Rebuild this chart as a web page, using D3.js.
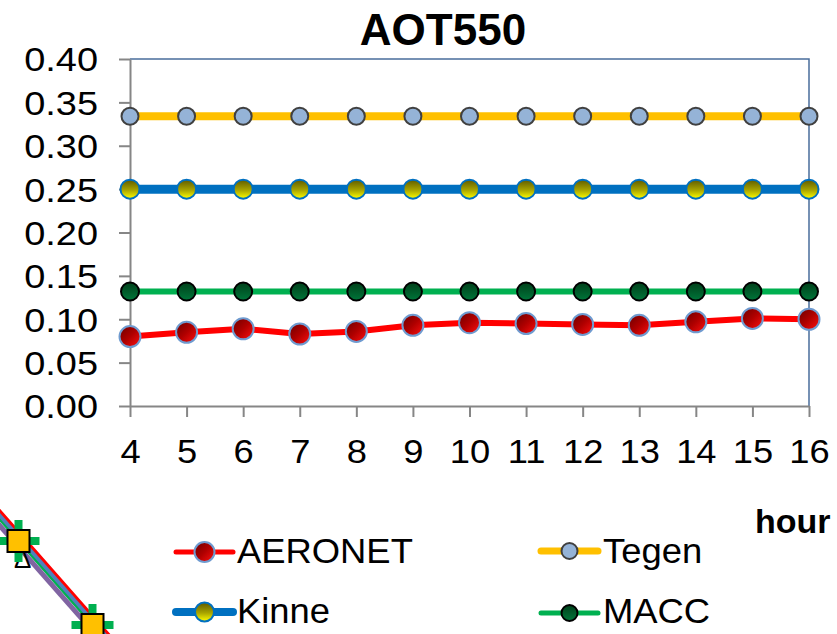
<!DOCTYPE html>
<html>
<head>
<meta charset="utf-8">
<script src="https://cdn.jsdelivr.net/npm/d3@7"></script>
<style>
    body { margin: 0; background: #fff; }
    svg { display: block; font-family: "Liberation Sans", Arial, sans-serif; }
</style>
</head>
<body>
<div id="container"></div>
<script>
const width = 837;
const height = 634;

// hours on the x axis
const hours = [4, 5, 6, 7, 8, 9, 10, 11, 12, 13, 14, 15, 16];
const yTicks = [0, 0.05, 0.10, 0.15, 0.20, 0.25, 0.30, 0.35, 0.40];

// AOT550 per hour
const aeronet = [0.080, 0.085, 0.089, 0.083, 0.086, 0.093, 0.096, 0.095, 0.094, 0.093, 0.097, 0.101, 0.100];
const tegen = [0.334, 0.334, 0.334, 0.334, 0.334, 0.334, 0.334, 0.334, 0.334, 0.334, 0.334, 0.334, 0.334];
const kinne = [0.250, 0.250, 0.250, 0.250, 0.250, 0.250, 0.250, 0.250, 0.250, 0.250, 0.250, 0.250, 0.250];
const macc = [0.132, 0.132, 0.132, 0.132, 0.132, 0.132, 0.132, 0.132, 0.132, 0.132, 0.132, 0.132, 0.132];

// cut-off piece of the neighbouring chart (bottom left)
const nbX = [-1, 0, 1, 2];
const nbRed = [-1.08, -0.08, 0.92, 1.92];
const nbBlue = [-1.03, -0.03, 0.97, 1.97];
const nbGreen = [-0.99, 0.01, 1.01, 2.01];
const nbWhite = [-0.96, 0.04, 1.04, 2.04];
const nbPurple = [-0.93, 0.07, 1.07, 2.07];
const nbMarkers = [0, 1];

const margin = {left: 130, right: 28, top: 59, bottom: 228};
const plotW = width - margin.left - margin.right;
const plotH = height - margin.top - margin.bottom;

const svg = d3.select("div#container").append("svg")
    .attr("width", width)
    .attr("height", height);

const defs = svg.append("defs");

const aeroGrad = defs.append("linearGradient").attr("id", "gAero")
    .attr("x1", 0).attr("y1", 0).attr("x2", 1).attr("y2", 1);
aeroGrad.append("stop").attr("offset", 0).attr("stop-color", "#6a0000");
aeroGrad.append("stop").attr("offset", 0.5).attr("stop-color", "#b00000");
aeroGrad.append("stop").attr("offset", 1).attr("stop-color", "#ff1010");

const kinneGrad = defs.append("linearGradient").attr("id", "gKinne")
    .attr("x1", 0).attr("y1", 0).attr("x2", 0).attr("y2", 1);
kinneGrad.append("stop").attr("offset", 0).attr("stop-color", "#5e5a00");
kinneGrad.append("stop").attr("offset", 0.55).attr("stop-color", "#a8a400");
kinneGrad.append("stop").attr("offset", 1).attr("stop-color", "#ffff00");

const maccGrad = defs.append("linearGradient").attr("id", "gMacc")
    .attr("x1", 0).attr("y1", 0).attr("x2", 0).attr("y2", 1);
maccGrad.append("stop").attr("offset", 0).attr("stop-color", "#00401a");
maccGrad.append("stop").attr("offset", 1).attr("stop-color", "#00763a");

const series = [
    {name: "AERONET", values: aeronet, color: "#ff0000", lw: 6, r: 10.5, lgR: 10, fill: "url(#gAero)", stroke: "#6f9bd0", lgLw: 5},
    {name: "Tegen", values: tegen, color: "#ffc000", lw: 8, r: 8.5, lgR: 8, fill: "#95b3d7", stroke: "#404040", lgLw: 7},
    {name: "Kinne", values: kinne, color: "#0070c0", lw: 9, r: 9.5, lgR: 9.5, fill: "url(#gKinne)", stroke: "#0070c0", lgLw: 8},
    {name: "MACC", values: macc, color: "#00b050", lw: 6, r: 9, lgR: 8, fill: "url(#gMacc)", stroke: "#000000", lgLw: 5}
];

// neighbour fragment
const nx = d3.scaleLinear().domain([0, 1]).range([18.5, 92.5]);
const ny = d3.scaleLinear().domain([0, 1]).range([541, 625]);
const nb = svg.append("g");
const nbLine = d3.line()
    .x(function (d, i) { return nx(nbX[i]); })
    .y(function (d) { return ny(d); });
[[nbRed, "#ff0000", 6], [nbBlue, "#4f81bd", 6], [nbGreen, "#00b050", 3], [nbWhite, "#ffffff", 2], [nbPurple, "#8064a2", 5]]
    .forEach(function (s) {
        nb.append("path").attr("d", nbLine(s[0]))
            .attr("fill", "none").attr("stroke", s[1]).attr("stroke-width", s[2]);
    });
nb.append("text").attr("x", 14).attr("y", 568).attr("font-size", 26).text("Δ");
nb.selectAll(".cross").data(nbMarkers).enter().append("path")
    .attr("d", function (d) {
        const cx = nx(d), cy = ny(d);
        return "M" + (cx - 21) + "," + cy + "H" + (cx + 21) + "M" + cx + "," + (cy - 21) + "V" + (cy + 21);
    })
    .attr("stroke", "#00b050").attr("stroke-width", 8);
nb.selectAll(".sq").data(nbMarkers).enter().append("rect")
    .attr("x", function (d) { return nx(d) - 11; })
    .attr("y", function (d) { return ny(d) - 11; })
    .attr("width", 22).attr("height", 22)
    .attr("fill", "#ffc000").attr("stroke", "#000").attr("stroke-width", 2);

// main chart
const xScale = d3.scaleLinear().domain([4, 16]).range([0, plotW]);
const yScale = d3.scaleLinear().domain([0, 0.4]).range([plotH, 0]);

const g = svg.append("g")
    .attr("transform", "translate(" + margin.left + "," + margin.top + ")");

// top and right frame
g.append("path")
    .attr("d", "M0,0H" + plotW + "V" + plotH)
    .attr("fill", "none")
    .attr("stroke", "#4a6d9c")
    .attr("stroke-width", 1.5);

const yaxis = d3.axisLeft(yScale)
    .tickValues(yTicks)
    .tickSize(11)
    .tickSizeOuter(0)
    .tickFormat(d3.format(".2f"));

const xaxis = d3.axisBottom(xScale)
    .tickValues(hours)
    .tickSize(11)
    .tickSizeOuter(0)
    .tickFormat(d3.format("d"));

const yG = g.append("g").call(yaxis);
const xG = g.append("g").attr("transform", "translate(0," + plotH + ")").call(xaxis);

[yG, xG].forEach(function (ax) {
    ax.select(".domain").attr("stroke", "#868686").attr("stroke-width", 2);
    ax.selectAll(".tick line").attr("stroke", "#868686").attr("stroke-width", 2);
    ax.selectAll(".tick text")
        .attr("fill", "#000")
        .style("font-size", "33px")
        .style("font-family", "'Liberation Sans', Arial, sans-serif");
});

yG.selectAll(".tick text")
    .attr("x", -32 / 1.15)
    .attr("dy", "0.36em")
    .attr("transform", "scale(1.15,1)");

xG.selectAll(".tick text")
    .attr("y", 57)
    .attr("dy", 0)
    .attr("x", 0)
    .attr("transform", "scale(1.1,1)");

const line = d3.line()
    .x(function (d, i) { return xScale(hours[i]); })
    .y(function (d) { return yScale(d); });

series.forEach(function (s) {
    const sg = g.append("g");
    sg.append("path")
        .attr("d", line(s.values))
        .attr("fill", "none")
        .attr("stroke", s.color)
        .attr("stroke-width", s.lw)
        .attr("stroke-linejoin", "round");
    sg.selectAll("circle").data(s.values).enter().append("circle")
        .attr("cx", function (d, i) { return xScale(hours[i]); })
        .attr("cy", function (d) { return yScale(d); })
        .attr("r", s.r)
        .attr("fill", s.fill)
        .attr("stroke", s.stroke)
        .attr("stroke-width", 2);
});

// title and axis name
svg.append("text")
    .attr("x", 443)
    .attr("y", 45)
    .attr("text-anchor", "middle")
    .attr("font-weight", "bold")
    .attr("font-size", 44)
    .text("AOT550");

svg.append("text")
    .attr("x", 755)
    .attr("y", 533)
    .attr("font-weight", "bold")
    .attr("font-size", 34)
    .text("hour");

// legend, two columns
const legendPos = [
    {x: 176, y: 552, tx: 237, ty: 563},
    {x: 541, y: 551, tx: 603, ty: 563},
    {x: 176, y: 612, tx: 237, ty: 623},
    {x: 541, y: 613, tx: 603, ty: 623}
];

const legend = svg.selectAll(".legend")
    .data(series)
    .enter()
    .append("g")
    .attr("class", "legend");

legend.append("line")
    .attr("x1", function (d, i) { return legendPos[i].x; })
    .attr("x2", function (d, i) { return legendPos[i].x + 57; })
    .attr("y1", function (d, i) { return legendPos[i].y; })
    .attr("y2", function (d, i) { return legendPos[i].y; })
    .attr("stroke", function (d) { return d.color; })
    .attr("stroke-width", function (d) { return d.lgLw; })
    .attr("stroke-linecap", "round");

legend.append("circle")
    .attr("cx", function (d, i) { return legendPos[i].x + 28.5; })
    .attr("cy", function (d, i) { return legendPos[i].y; })
    .attr("r", function (d) { return d.lgR; })
    .attr("fill", function (d) { return d.fill; })
    .attr("stroke", function (d) { return d.stroke; })
    .attr("stroke-width", 2);

legend.append("text")
    .attr("transform", function (d, i) {
        return "translate(" + legendPos[i].tx + "," + legendPos[i].ty + ") scale(1.04,1)";
    })
    .attr("font-size", 35)
    .text(function (d) { return d.name; });
</script>
</body>
</html>
